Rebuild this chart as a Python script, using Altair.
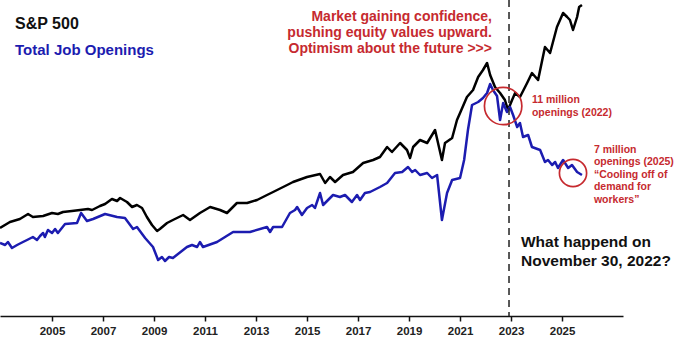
import altair as alt
import pandas as pd

# ---- data (both series share one hidden index axis) ----
sp_years = [2002.96, 2003.35, 2003.74, 2004.06, 2004.25, 2004.65, 2005.00, 2005.23, 2005.43, 2005.78,
            2006.10, 2006.41, 2006.57, 2006.88, 2007.08, 2007.35, 2007.55, 2007.67, 2007.94, 2008.14,
            2008.33, 2008.53, 2008.72, 2008.92, 2009.12, 2009.23, 2009.51, 2009.74, 2010.14, 2010.41,
            2010.80, 2011.20, 2011.59, 2011.86, 2012.25, 2012.65, 2013.04, 2013.43, 2013.67, 2014.22,
            2014.45, 2015.00, 2015.51, 2015.71, 2015.90, 2016.10, 2016.41, 2016.80, 2017.20, 2017.59,
            2017.86, 2018.14, 2018.33, 2018.65, 2018.92, 2019.04, 2019.16, 2019.43, 2019.71, 2020.02,
            2020.29, 2020.41, 2020.69, 2020.88, 2021.00, 2021.27, 2021.51, 2021.71, 2021.90, 2022.06,
            2022.18, 2022.37, 2022.57, 2022.76, 2022.88, 2023.04, 2023.16, 2023.35, 2023.63, 2023.82,
            2024.06, 2024.33, 2024.53, 2024.80, 2025.04, 2025.20, 2025.31, 2025.43, 2025.59, 2025.67, 2025.78]
sp_values = [4.40, 4.70, 4.85, 5.10, 4.95, 5.00, 5.15, 5.10, 5.20, 5.25,
             5.30, 5.35, 5.30, 5.50, 5.60, 5.85, 5.75, 5.90, 5.70, 5.45,
             5.55, 5.40, 4.95, 4.55, 4.25, 4.35, 4.65, 4.80, 5.05, 4.80,
             5.15, 5.45, 5.30, 5.15, 5.65, 5.65, 5.80, 6.05, 6.20, 6.55,
             6.70, 6.95, 7.10, 6.65, 6.95, 6.70, 7.05, 7.20, 7.65, 7.80,
             7.95, 8.45, 8.20, 8.65, 8.30, 7.90, 8.45, 8.80, 8.65, 9.30,
             7.80, 8.65, 8.90, 9.80, 10.15, 10.95, 11.30, 11.95, 12.30, 12.65,
             12.05, 11.45, 11.15, 10.80, 10.30, 10.80, 11.15, 10.95, 11.65, 12.15,
             11.80, 13.45, 13.15, 14.45, 15.15, 14.95, 14.80, 14.30, 14.95, 15.45, 15.55]

jo_years = [2002.96, 2003.16, 2003.27, 2003.43, 2003.63, 2003.86, 2004.02, 2004.25, 2004.41, 2004.53,
            2004.65, 2004.72, 2004.84, 2005.00, 2005.12, 2005.23, 2005.51, 2005.98, 2006.14, 2006.37,
            2006.61, 2007.08, 2007.55, 2007.86, 2008.18, 2008.33, 2008.65, 2008.96, 2009.16, 2009.31,
            2009.43, 2009.59, 2009.74, 2010.29, 2010.49, 2010.69, 2010.80, 2010.92, 2011.47, 2012.10,
            2012.76, 2013.43, 2013.55, 2013.67, 2014.02, 2014.33, 2014.53, 2014.61, 2014.80, 2015.00,
            2015.20, 2015.31, 2015.51, 2015.63, 2016.02, 2016.29, 2016.49, 2016.76, 2016.96, 2017.08,
            2017.27, 2017.47, 2017.86, 2018.14, 2018.45, 2018.73, 2018.96, 2019.12, 2019.24, 2019.43,
            2019.71, 2019.90, 2020.10, 2020.29, 2020.49, 2020.69, 2021.00, 2021.16, 2021.31, 2021.47,
            2021.71, 2021.90, 2022.06, 2022.18, 2022.29, 2022.45, 2022.57, 2022.69, 2022.84, 2022.96,
            2023.08, 2023.24, 2023.35, 2023.47, 2023.67, 2023.82, 2024.14, 2024.33, 2024.45, 2024.61,
            2024.73, 2024.84, 2025.04, 2025.24, 2025.39, 2025.59, 2025.78]
jo_values = [3.65, 3.55, 3.70, 3.40, 3.55, 3.70, 3.80, 3.95, 3.80, 4.00,
             4.15, 3.95, 4.30, 4.15, 4.35, 4.15, 4.60, 4.65, 5.15, 4.75,
             4.85, 5.10, 4.95, 4.90, 4.35, 4.45, 3.90, 3.45, 2.80, 2.95,
             2.75, 2.95, 2.90, 3.45, 3.55, 3.45, 3.70, 3.45, 3.70, 4.20,
             4.20, 4.45, 4.20, 4.45, 4.45, 5.15, 5.30, 5.45, 5.05, 5.40,
             5.55, 5.40, 6.15, 5.55, 6.05, 5.95, 6.05, 5.70, 6.05, 5.80,
             6.15, 6.20, 6.45, 6.65, 7.15, 7.20, 7.45, 7.20, 7.30, 7.05,
             7.15, 6.90, 7.05, 4.80, 6.15, 6.80, 6.90, 7.80, 9.30, 10.55,
             10.70, 10.90, 11.15, 11.60, 11.30, 11.00, 9.80, 10.65, 10.20, 10.45,
             10.05, 9.45, 9.65, 8.95, 9.05, 8.45, 8.30, 7.70, 7.80, 7.55,
             7.70, 7.40, 7.80, 7.40, 7.55, 7.20, 7.05]

tick_years = [2005, 2007, 2009, 2011, 2013, 2015, 2017, 2019, 2021, 2023, 2025]
event_year = [2022.92]          # November 30, 2022
circle_years = [2022.69, 2025.43]
circle_values = [10.5, 7.15]
circle_sizes = [1400, 740]

X_DOMAIN = [2002.96, 2027.39]
Y_DOMAIN = [0, 15.8]
W, H = 623, 316
RED = "#c62a2f"
BLUE = "#1c1cb0"
FONT = "Liberation Sans"

sp_df = pd.DataFrame({"year": sp_years, "value": sp_values})
jo_df = pd.DataFrame({"year": jo_years, "value": jo_values})
ev_df = pd.DataFrame({"year": event_year})
circ_df = pd.DataFrame({"year": circle_years, "value": circle_values, "size": circle_sizes})

xscale = alt.Scale(domain=X_DOMAIN, nice=False, zero=False)
yscale = alt.Scale(domain=Y_DOMAIN, nice=False, zero=False)
xaxis = alt.Axis(values=tick_years, format="d", title=None, grid=False,
                 domainColor="#111", domainWidth=1.6, tickColor="#111", tickWidth=1.5,
                 tickSize=5, labelFont=FONT, labelFontSize=11.5, labelFontWeight="bold",
                 labelColor="#222", labelPadding=4, labelFlush=False)
X = alt.X("year:Q", scale=xscale, axis=xaxis)
Y = alt.Y("value:Q", scale=yscale, axis=None)

sp_line = alt.Chart(sp_df).mark_line(color="#000", strokeWidth=2.5, strokeJoin="round").encode(x=X, y=Y)
jo_line = alt.Chart(jo_df).mark_line(color=BLUE, strokeWidth=2.5, strokeJoin="round").encode(x=X, y=Y)

event_rule = alt.Chart(ev_df).mark_rule(color="#222", strokeWidth=1.5, strokeDash=[7, 5]).encode(
    x=X, y=alt.value(0), y2=alt.value(H))

circles = alt.Chart(circ_df).mark_point(shape="circle", filled=False, color=RED, strokeWidth=1.7,
                                         opacity=1).encode(
    x=X, y=Y, size=alt.Size("size:Q", scale=None, legend=None))


def label(text, year, value, size, color, align="left", line_height=None):
    df = pd.DataFrame({"year": [year], "value": [value], "t": [text]})
    kw = dict(align=align, baseline="alphabetic", font=FONT, fontSize=size, fontWeight="bold",
              color=color, lineBreak="\n")
    if line_height:
        kw["lineHeight"] = line_height
    return alt.Chart(df).mark_text(**kw).encode(x=X, y=Y, text="t:N")


t_sp = label("S&P 500", 2003.55, 14.35, 16, "#111")
t_jo = label("Total Job Openings", 2003.55, 13.05, 15, BLUE)
t_top = label("Market gaining confidence,\npushing equity values upward.\nOptimism about the future >>>",
              2022.25, 14.75, 14, RED, align="right", line_height=16)
t_11 = label("11 million\nopenings (2022)", 2023.82, 10.63, 10.5, RED, line_height=12.7)
t_7 = label("7 million\nopenings (2025)\n\u201cCooling off of\ndemand for\nworkers\u201d",
            2026.25, 8.17, 10.5, RED, line_height=12.6)
t_q = label("What happend on\nNovember 30, 2022?", 2023.39, 3.43, 15.5, "#111", line_height=19)

chart = alt.layer(sp_line, jo_line, event_rule, circles, t_sp, t_jo, t_top, t_11, t_7, t_q).properties(
    width=W, height=H,
    padding={"left": 0, "top": 0, "right": 57, "bottom": 37},
    autosize=alt.AutoSizeParams(type="none"),
    background="white",
).configure_view(stroke=None)

chart.save("out.html", embed_options={"renderer": "svg", "actions": False})
